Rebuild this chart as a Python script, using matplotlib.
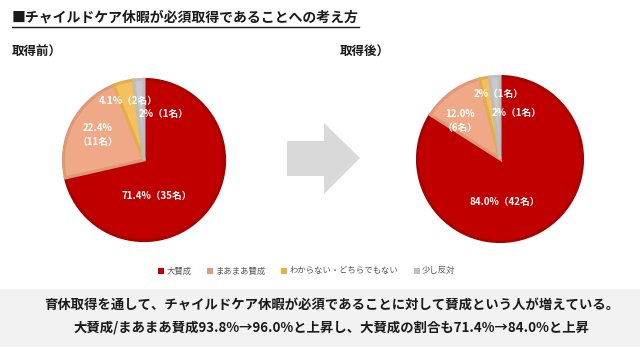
import matplotlib
matplotlib.use("Agg")
import matplotlib.pyplot as plt
from matplotlib.patches import Patch, Rectangle, Polygon
from matplotlib.lines import Line2D

plt.rcParams['font.family'] = ['Noto Sans CJK JP', 'DejaVu Sans']

# data
categories = ['大賛成', 'まあまあ賛成', 'わからない・どちらでもない', '少し反対']
before_counts = [35, 11, 2, 1]
before_pct = ['71.4', '22.4', '4.1', '2']
after_counts = [42, 6, 1, 1]
after_pct = ['84.0', '12.0', '2', '2']

colors = ['#C00000', '#F0A987', '#F4C060', '#C9C9C9']
edges = ['#A80000', '#DE9878', '#E3AE4A', '#BDBDBD']
legend_colors = ['#C00000', '#E59A7C', '#F0B040', '#BFBFBF']

W, H = 640, 351
fig = plt.figure(figsize=(W / 100, H / 100), dpi=100)


def px_axes(cx, cy, r):
    return fig.add_axes([(cx - r) / W, 1 - (cy + r) / H, 2 * r / W, 2 * r / H])


def draw_pie(ax, counts, pct, label_pos):
    wedges, _ = ax.pie(counts, colors=colors, startangle=90, counterclock=False,
                       wedgeprops=dict(linewidth=2.2))
    for w, ec in zip(wedges, edges):
        w.set_edgecolor(ec)
        w.set_joinstyle('miter')
    ax.set_xlim(-1.03, 1.03)
    ax.set_ylim(-1.03, 1.03)
    ax.axis('off')
    for i, pos in enumerate(label_pos):
        if i == 1:
            ax.text(pos[0], pos[1] + 0.09, f'{pct[i]}%', color='white', fontsize=7,
                    fontweight='bold', ha='center', va='center')
            ax.text(pos[0], pos[1] - 0.09, f'（{counts[i]}名）', color='white', fontsize=7,
                    fontweight='bold', ha='center', va='center')
        else:
            ax.text(pos[0], pos[1], f'{pct[i]}%（{counts[i]}名）', color='white', fontsize=7,
                    fontweight='bold', ha='center', va='center')


ax1 = px_axes(144, 160, 83)
draw_pie(ax1, before_counts, before_pct, [(0.16, -0.45), (-0.57, 0.31), (-0.20, 0.73), (0.24, 0.57)])

ax2 = px_axes(500, 159, 85)
draw_pie(ax2, after_counts, after_pct, [(0.06, -0.52), (-0.48, 0.46), (-0.02, 0.79), (0.20, 0.56)])

# title
title = fig.text(12 / W, 1 - 18 / H, '■チャイルドケア休暇が必須取得であることへの考え方',
                 fontsize=10, fontweight='bold', ha='left', va='center', color='#1a1a1a')
fig.text(12 / W, 1 - 52 / H, '取得前）', fontsize=9, fontweight='bold', ha='left', va='center', color='#1a1a1a')
fig.text(340 / W, 1 - 52 / H, '取得後）', fontsize=9, fontweight='bold', ha='left', va='center', color='#1a1a1a')

fig.canvas.draw()
bb = title.get_window_extent(fig.canvas.get_renderer())
uy = 1 - 27 / H
fig.add_artist(Line2D([bb.x0 / W, bb.x1 / W], [uy, uy], transform=fig.transFigure,
                      color='#1a1a1a', linewidth=1.0))

# arrow
arrow_px = [(287, 141), (324, 141), (324, 123), (360, 158), (324, 194), (324, 176), (287, 176)]
fig.add_artist(Polygon([(x / W, 1 - y / H) for x, y in arrow_px], closed=True,
                       transform=fig.transFigure, facecolor='#D9D9D9', edgecolor='none'))

# legend
handles = [Patch(facecolor=c, edgecolor='none') for c in legend_colors]
leg = fig.legend(handles, categories, loc='center', bbox_to_anchor=(307 / W, 1 - 271 / H), ncol=4,
                 frameon=False, fontsize=6, handlelength=0.7, handleheight=0.7, handletextpad=0.3,
                 columnspacing=1.85)
for t in leg.get_texts():
    t.set_color('#595959')

# bottom box
fig.add_artist(Rectangle((0, 1 - 347 / H), 1, 58 / H, transform=fig.transFigure,
                         facecolor='#F2F2F2', edgecolor='none', zorder=0))
fig.text(332 / W, 1 - 305 / H, '育休取得を通して、チャイルドケア休暇が必須であることに対して賛成という人が増えている。',
         fontsize=9.6, fontweight='bold', ha='center', va='center', color='#1a1a1a')
fig.text(332 / W, 1 - 327 / H, '大賛成/まあまあ賛成93.8%→96.0%と上昇し、大賛成の割合も71.4%→84.0%と上昇',
         fontsize=9.6, fontweight='bold', ha='center', va='center', color='#1a1a1a')

fig.savefig('out.png', dpi=100)
